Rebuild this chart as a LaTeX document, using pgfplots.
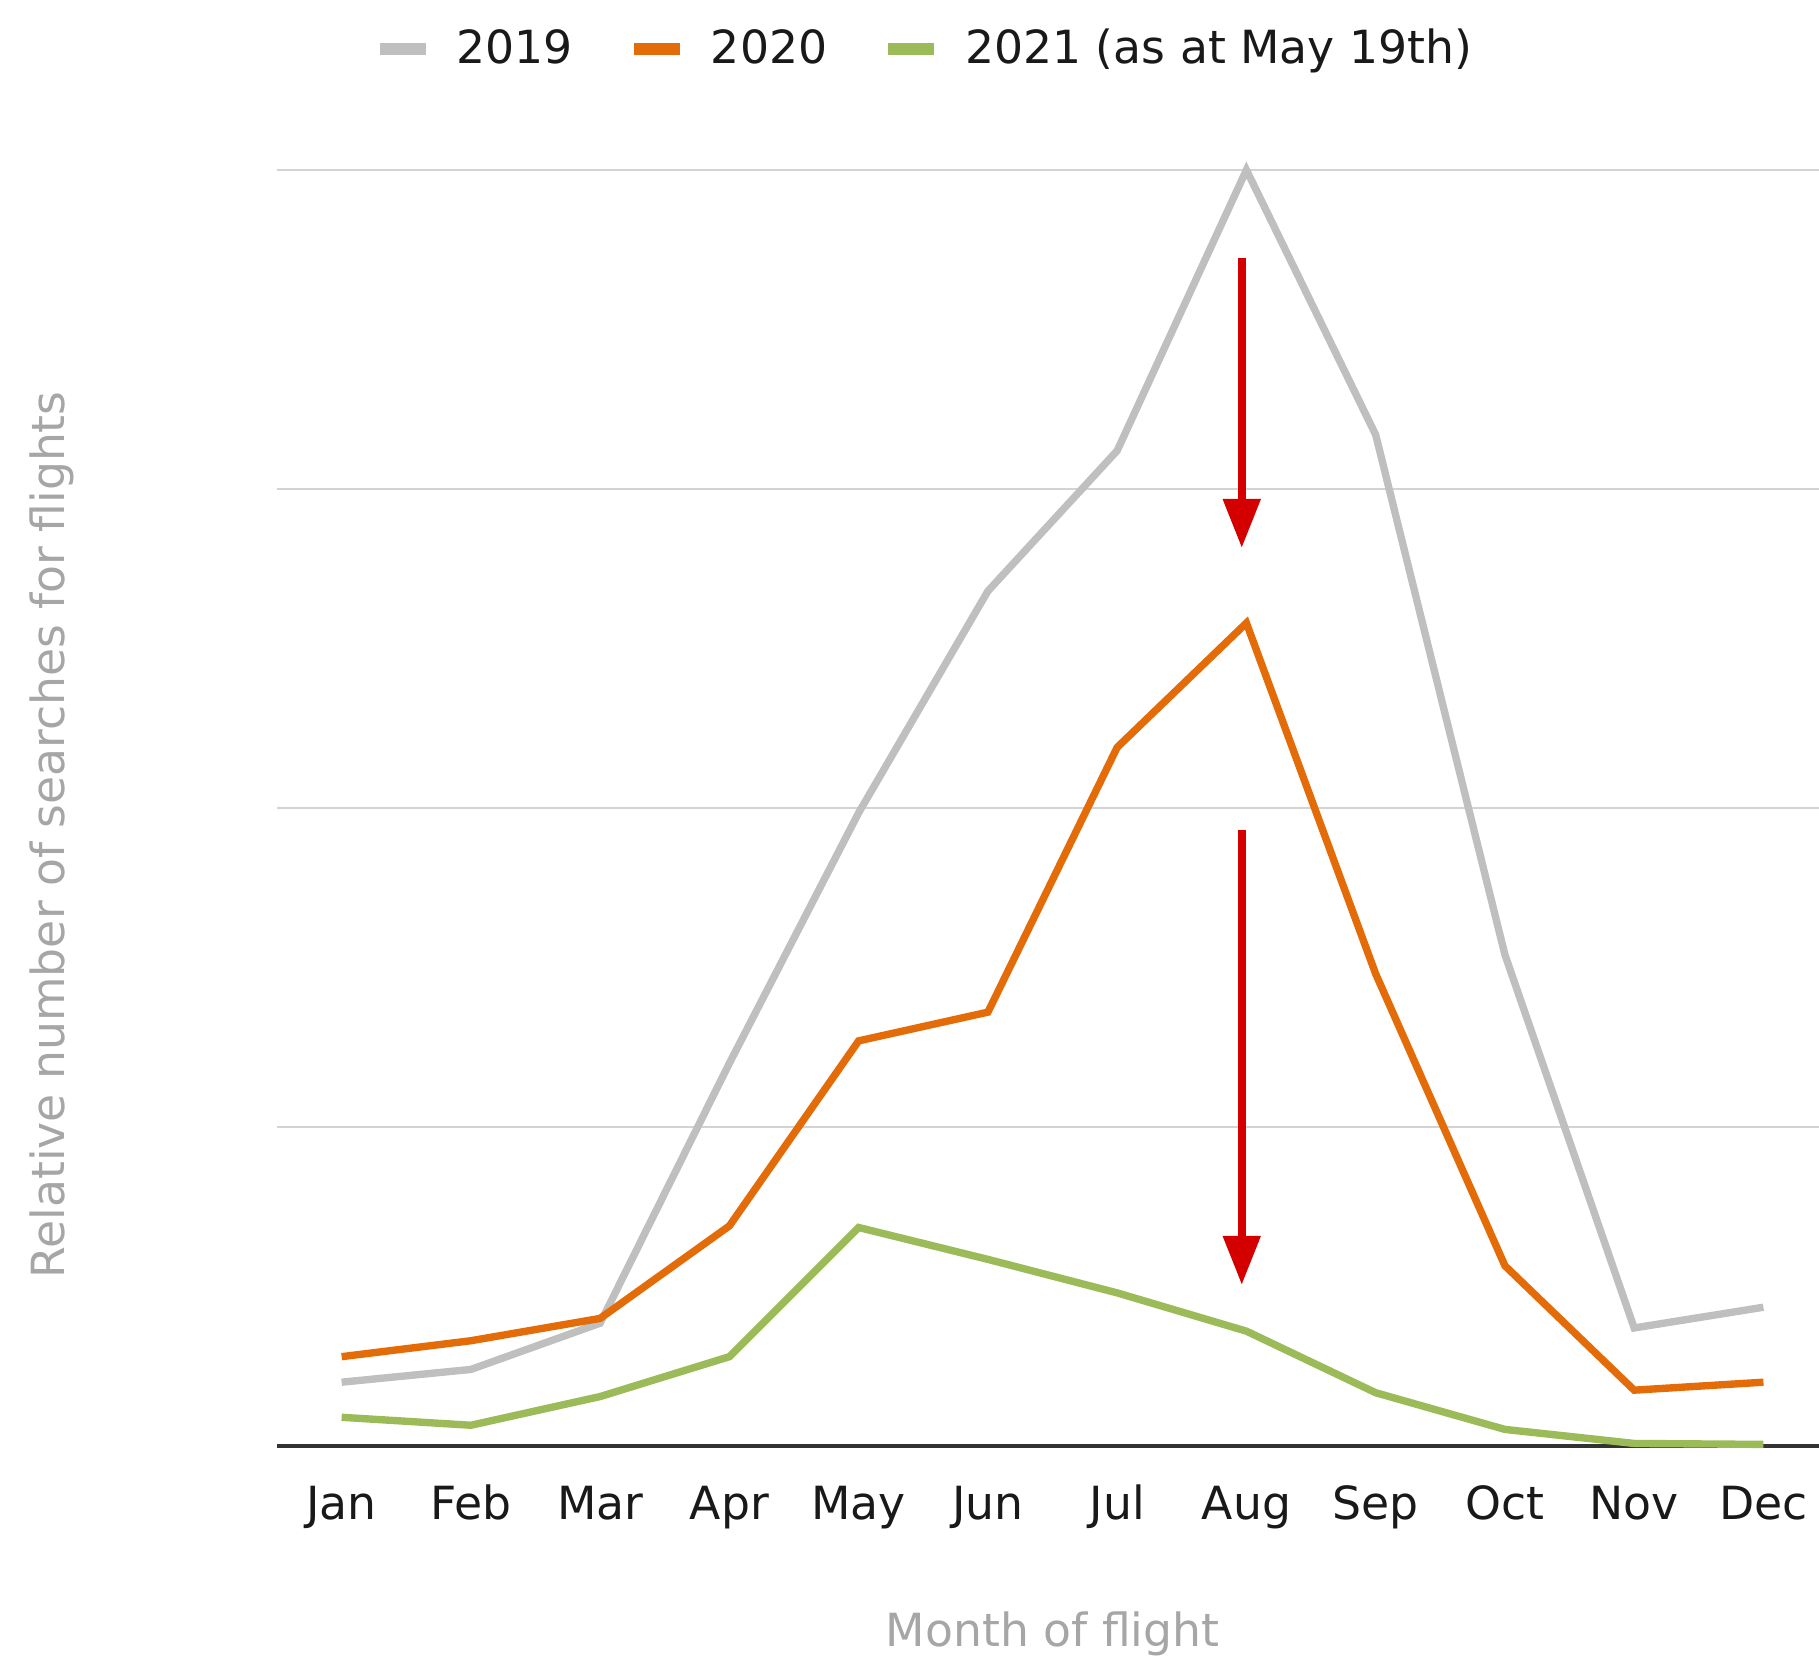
\documentclass[border=0pt]{standalone}
\usepackage{fontspec}
\setmainfont{DejaVu Sans}
\usepackage{pgfplots}
\pgfplotsset{compat=1.18}
\usepackage{pgfplotstable}
\usetikzlibrary{arrows.meta}

\definecolor{c2019}{HTML}{BFBFBF}
\definecolor{c2020}{HTML}{E36C09}
\definecolor{c2021}{HTML}{9BBB59}
\definecolor{arrowred}{HTML}{D40000}
\definecolor{labelgray}{HTML}{A6A6A6}
\definecolor{gridgray}{HTML}{D3D3D3}

% relative searches, one gridline step = 1 unit, months 0 = Jan ... 11 = Dec
\pgfplotstableread{
m  y2019  y2020  y2021
0  0.20   0.28   0.09
1  0.24   0.33   0.065
2  0.385  0.40   0.155
3  1.20   0.69   0.28
4  1.985  1.27   0.685
5  2.68   1.36   0.585
6  3.12   2.19   0.48
7  4.00   2.58   0.36
8  3.17   1.48   0.167
9  1.54   0.565  0.052
10 0.37   0.175  0.008
11 0.435  0.20   0.005
}\searches

\begin{document}
\begin{tikzpicture}
\useasboundingbox (-2.77cm,-2.12cm) rectangle (15.42cm,14.46cm);
\begin{axis}[
    scale only axis,
    width=15.42cm,
    height=12.76cm,
    font=\fontsize{13}{16}\selectfont,
    xmin=-0.5, xmax=11.43,
    ymin=0, ymax=4,
    clip=false,
    xtick={0,...,11},
    xticklabels={Jan,Feb,Mar,Apr,May,Jun,Jul,Aug,Sep,Oct,Nov,Dec},
    xticklabel style={anchor=base, yshift=-0.74cm, text=black!90},
    ytick={0,1,2,3,4},
    yticklabels={},
    major tick length=0pt,
    ymajorgrids,
    grid style={gridgray, line width=0.7pt},
    axis x line*=bottom,
    axis y line*=left,
    x axis line style={draw=black!80, line width=0.9pt, -},
    y axis line style={draw=none},
    xlabel={Month of flight},
    ylabel={Relative number of searches for flights},
    label style={text=labelgray},
    xlabel style={at={(axis description cs:0.503,-0.147)}, anchor=center},
    ylabel style={at={(axis description cs:-0.146,0.479)}, anchor=center},
    legend columns=3,
    legend style={draw=none, fill=none, at={(0.419,1.095)}, anchor=center,
        nodes={inner sep=0pt, anchor=west, text=black!90},
        /tikz/every odd column/.append style={column sep=0.25cm},
        /tikz/every even column/.append style={column sep=0.55cm}},
    legend image code/.code={\draw[#1, line width=3.4pt] (0cm,0cm) -- (0.46cm,0cm);},
    every axis plot/.append style={line width=2.1pt},
]
\addplot[c2019] table[x=m, y=y2019] {\searches};
\addplot[c2020] table[x=m, y=y2020] {\searches};
\addplot[c2021] table[x=m, y=y2021] {\searches};
\legend{2019, 2020, 2021 (as at May 19th)}
\draw[arrowred, line width=2.3pt, -{Triangle[length=0.49cm, width=0.36cm]}]
    (axis cs:6.964,3.724) -- (axis cs:6.964,2.815);
\draw[arrowred, line width=2.3pt, -{Triangle[length=0.49cm, width=0.36cm]}]
    (axis cs:6.964,1.931) -- (axis cs:6.964,0.505);
\end{axis}
\end{tikzpicture}
\end{document}
